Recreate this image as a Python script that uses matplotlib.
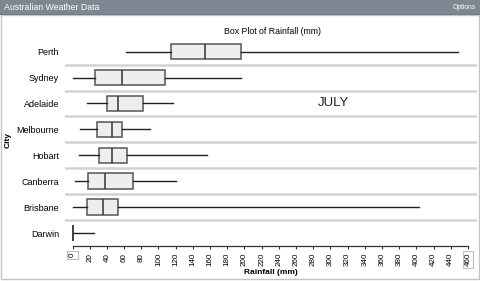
import matplotlib
matplotlib.use("Agg")
import matplotlib.pyplot as plt
from matplotlib.patches import Rectangle

plt.rcParams['font.family'] = ['Liberation Sans', 'DejaVu Sans']

cities = ["Perth", "Sydney", "Adelaide", "Melbourne", "Hobart", "Canberra", "Brisbane", "Darwin"]
whisker_low = [62, 0, 17, 9, 7.5, 3, 0, 0]
q1 = [114, 26, 40, 28.5, 30.5, 17.5, 16.5, 0]
median = [154, 58, 53, 46, 46, 37.5, 36, 0]
q3 = [196, 108, 82, 58, 63, 70, 53.5, 0]
whisker_high = [448, 196, 116.5, 90, 156, 120, 403, 25]
x_ticks = list(range(0, 461, 20))

W, H = 480, 281
fig = plt.figure(figsize=(W / 100, H / 100), dpi=100)

def fx(px):
    return px / W

def fy(py):
    return 1 - py / H

# header bar and panel border
fig.patches.append(Rectangle((0, fy(14)), 1, 14 / H, transform=fig.transFigure,
                             facecolor='#7d8791', edgecolor='none', zorder=0))
fig.patches.append(Rectangle((0, fy(15)), 1, 1 / H, transform=fig.transFigure,
                             facecolor='#5f6a73', edgecolor='none', zorder=0))
fig.patches.append(Rectangle((fx(1), fy(279)), fx(478), (279 - 15) / H, transform=fig.transFigure,
                             facecolor='none', edgecolor='#c4c4c4', lw=1, zorder=0))
fig.text(fx(4), fy(7.5), "Australian Weather Data", color='white', fontsize=6.3,
         ha='left', va='center')
fig.text(fx(476), fy(7.5), "Options", color='white', fontsize=4.8, ha='right', va='center')

ax_left, ax_right, ax_top, ax_bot = 65, 477, 38.7, 246
ax = fig.add_axes([fx(ax_left), fy(ax_bot), (ax_right - ax_left) / W, (ax_bot - ax_top) / H])

stats = []
for i, c in enumerate(cities):
    stats.append(dict(label=c, whislo=whisker_low[i], q1=q1[i], med=median[i],
                      q3=q3[i], whishi=whisker_high[i], fliers=[]))

positions = list(range(len(cities)))
ax.bxp(stats, positions=positions, vert=False, widths=0.6, patch_artist=True,
       showcaps=False, showfliers=False,
       boxprops=dict(facecolor='#eeeeee', edgecolor='#555555', lw=1.1),
       medianprops=dict(color='#333333', lw=1.1),
       whiskerprops=dict(color='#222222', lw=1.0))

for i in range(len(cities) - 1):
    ax.axhline(i + 0.5, color='#d2d2d2', lw=1.8, zorder=0)

scale = (468 - 72.5) / 460
ax.set_xlim(-7.5 / scale, 460 + 9 / scale)
ax.set_ylim(len(cities) - 0.5, -0.5)

ax.set_yticks(positions)
ax.set_yticklabels(cities, fontsize=6.5)
ax.tick_params(axis='y', length=0, pad=4.3)

ax.set_xticks(x_ticks)
ax.set_xticklabels([str(v) for v in x_ticks], rotation=90, fontsize=5.8, va='top', ha='center')
ax.tick_params(axis='x', direction='out', length=2.5, width=0.8, color='#333333', pad=2.5)

for s in ['top', 'right', 'left']:
    ax.spines[s].set_visible(False)
ax.spines['bottom'].set_bounds(0, 460)
ax.spines['bottom'].set_color('#333333')
ax.spines['bottom'].set_linewidth(0.9)

labels = ax.get_xticklabels()
for lab in (labels[0], labels[-1]):
    lab.set_bbox(dict(boxstyle='square,pad=0.2', facecolor='none', edgecolor='#bdbdbd', lw=0.8))

ax.text(303, 2, "JULY", fontsize=9.5, color='#222222', ha='center', va='center')

fig.text(fx(272), fy(31.5), "Box Plot of Rainfall (mm)", fontsize=6.3, ha='center', va='center')
fig.text(fx(271), fy(273), "Rainfall (mm)", fontsize=6, fontweight='bold', ha='center', va='center')
fig.text(fx(8), fy(140), "City", fontsize=6, fontweight='bold', rotation=90, ha='center', va='center')

fig.savefig("out.png", dpi=100)
